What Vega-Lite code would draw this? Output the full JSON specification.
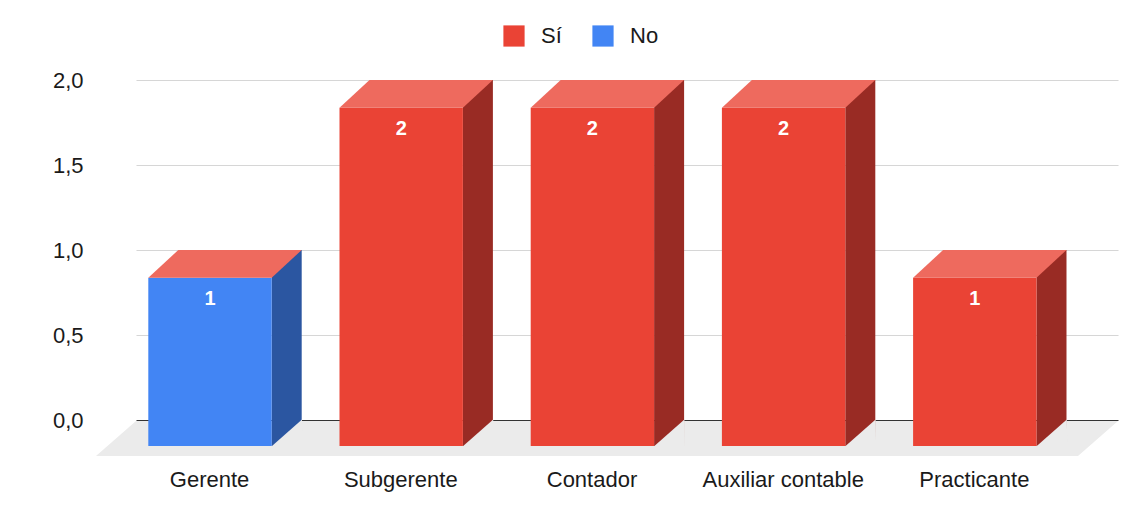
{
  "$schema": "https://vega.github.io/schema/vega-lite/v6.json",
  "width": 982,
  "height": 340,
  "autosize": {"type": "none"},
  "padding": {"left": 136, "top": 80, "right": 20, "bottom": 95},
  "background": "white",
  "config": {
    "view": {"stroke": null},
    "font": "Liberation Sans",
    "locale": {"number": {"decimal": ",", "thousands": ".", "grouping": [3], "currency": ["", " €"]}}
  },
  "data": {
    "values": [
      {"puesto": "Gerente", "valor": 1, "respuesta": "No"},
      {"puesto": "Subgerente", "valor": 2, "respuesta": "Sí"},
      {"puesto": "Contador", "valor": 2, "respuesta": "Sí"},
      {"puesto": "Auxiliar contable", "valor": 2, "respuesta": "Sí"},
      {"puesto": "Practicante", "valor": 1, "respuesta": "Sí"}
    ]
  },
  "encoding": {
    "x": {
      "field": "puesto",
      "type": "nominal",
      "sort": null,
      "scale": {"paddingInner": 0.3546, "paddingOuter": 0.2453},
      "axis": {
        "title": null,
        "labelAngle": 0,
        "labelFontSize": 22,
        "labelColor": "#1a1a1a",
        "labelPadding": 49,
        "labelOffset": -35,
        "domain": false,
        "ticks": false,
        "tickSize": 0,
        "grid": false
      }
    },
    "y": {
      "field": "valor",
      "type": "quantitative",
      "scale": {"domain": [0, 2], "nice": false, "zero": true},
      "axis": {
        "title": null,
        "values": [0, 0.5, 1, 1.5, 2],
        "format": ".1f",
        "labelFontSize": 22,
        "labelColor": "#1a1a1a",
        "labelPadding": 53,
        "domain": false,
        "ticks": false,
        "tickSize": 0,
        "gridColor": {"condition": {"test": "datum.value === 0", "value": "#333333"}, "value": "#d6d6d6"},
        "gridWidth": 1.2
      }
    }
  },
  "layer": [
    {
      "data": {"values": [{"valor": 0}]},
      "mark": {
        "type": "point",
        "shape": "M -4.91 0.01 L 4.91 0.01 L 4.51 0.36 L -5.31 0.36 Z",
        "size": 40000,
        "filled": true,
        "opacity": 1,
        "strokeWidth": 0,
        "color": "#ebebeb"
      },
      "encoding": {
        "x": null,
        "y": {"field": "valor", "type": "quantitative"}
      }
    },
    {
      "mark": {"type": "bar", "width": 30, "xOffset": 42.1, "y2Offset": 26},
      "encoding": {
        "y2": {"datum": 0},
        "color": {"condition": {"test": "datum.respuesta === 'No'", "value": "#2B56A1"}, "value": "#992B24"}
      }
    },
    {
      "mark": {
        "type": "point",
        "shape": "M 0.62 -0.005 L 0.625 0.262 L 0.317 0.262 Z",
        "size": 40000,
        "filled": true,
        "opacity": 1,
        "strokeWidth": 0,
        "xOffset": -4.6,
        "color": "#ebebeb"
      },
      "encoding": {
        "y": {"datum": 0}
      }
    },
    {
      "mark": {"type": "bar", "width": 123.4, "xOffset": -34.6, "yOffset": 27.7, "y2Offset": 26},
      "encoding": {
        "y2": {"datum": 0},
        "color": {
          "field": "respuesta",
          "type": "nominal",
          "scale": {"domain": ["Sí", "No"], "range": ["#EA4335", "#4285F4"]},
          "legend": {
            "title": null,
            "orient": "none",
            "legendX": 367,
            "legendY": -55,
            "direction": "horizontal",
            "symbolType": "square",
            "symbolSize": 450,
            "symbolStrokeWidth": 0,
            "labelFontSize": 22,
            "labelColor": "#1a1a1a",
            "labelOffset": 16,
            "columnPadding": 30
          }
        }
      }
    },
    {
      "mark": {
        "type": "point",
        "shape": "M -0.917 0.277 L -0.617 0 L 0.617 0 L 0.317 0.277 Z",
        "size": 40000,
        "filled": true,
        "opacity": 1,
        "strokeWidth": 0,
        "xOffset": -4.6,
        "color": "#EE6A5E"
      }
    },
    {
      "mark": {
        "type": "text",
        "xOffset": -34.6,
        "yOffset": 49,
        "color": "white",
        "fontWeight": "bold",
        "fontSize": 20,
        "baseline": "middle",
        "align": "center"
      },
      "encoding": {
        "text": {"field": "valor", "type": "quantitative", "format": "d"}
      }
    }
  ]
}
